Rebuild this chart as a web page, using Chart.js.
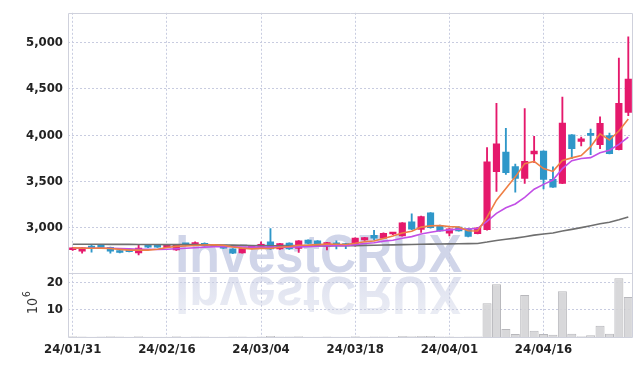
<!DOCTYPE html>
<html><head><meta charset="utf-8">
<script src="https://cdn.jsdelivr.net/npm/chart.js@4.4.1/dist/chart.umd.min.js"></script>
<style>html,body{margin:0;padding:0;background:#fff;}#wrap{width:642px;height:366px;position:relative;}</style>
</head><body><div id="wrap"><canvas id="c" width="642" height="366"></canvas></div>
<script>
const dates = ['24/01/31','24/02/01','24/02/02','24/02/05','24/02/06','24/02/07','24/02/08','24/02/13','24/02/14','24/02/15',
'24/02/16','24/02/19','24/02/20','24/02/21','24/02/22','24/02/23','24/02/26','24/02/27','24/02/28','24/02/29',
'24/03/04','24/03/05','24/03/06','24/03/07','24/03/08','24/03/11','24/03/12','24/03/13','24/03/14','24/03/15',
'24/03/18','24/03/19','24/03/20','24/03/21','24/03/22','24/03/25','24/03/26','24/03/27','24/03/28','24/03/29',
'24/04/01','24/04/02','24/04/03','24/04/04','24/04/05','24/04/08','24/04/09','24/04/11','24/04/12','24/04/15',
'24/04/16','24/04/17','24/04/18','24/04/19','24/04/22','24/04/23','24/04/24','24/04/25','24/04/26','24/04/29'];

const openP = [2762,2748,2785,2810,2787,2752,2762,2727,2797,2796,
2788,2760,2820,2812,2832,2812,2805,2773,2727,2780,
2778,2847,2770,2834,2776,2866,2858,2802,2838,2828,
2805,2868,2919,2888,2932,2911,3064,2981,3160,3023,
2942,3007,2989,2936,2979,3605,3819,3662,3534,3797,
3829,3523,3480,4003,3933,4021,3897,3997,3843,4245];

const highP = [2785,2788,2812,2815,2790,2755,2766,2812,2808,2805,
2798,2820,2825,2848,2838,2815,2808,2776,2778,2792,
2848,2990,2832,2836,2862,2870,2860,2843,2858,2832,
2890,2896,2972,2944,2950,3056,3150,3125,3165,3028,
2992,3010,2992,3003,3865,4345,4075,3687,4288,3989,
3832,3658,4413,4006,3979,4067,4200,4022,4833,5064];

const lowP = [2755,2725,2735,2785,2725,2728,2738,2706,2785,2786,
2786,2755,2810,2808,2800,2795,2776,2720,2724,2770,
2775,2766,2766,2766,2733,2826,2802,2760,2770,2775,
2800,2862,2868,2884,2925,2908,2980,2950,2996,2962,
2912,2962,2900,2932,2975,3392,3576,3384,3480,3704,
3420,3435,3476,3747,3883,3790,3854,3798,3840,4210];

const closeP = [2780,2783,2780,2787,2748,2732,2742,2780,2790,2790,
2792,2815,2815,2840,2805,2798,2780,2724,2776,2785,
2822,2770,2829,2770,2858,2830,2806,2840,2812,2805,
2887,2893,2888,2940,2940,3053,2984,3120,3000,2966,
2989,2966,2905,3000,3712,3907,3595,3534,3719,3829,
3523,3438,4131,3854,3960,3997,4128,3801,4345,4608];

// volume in millions (10^6)
const volume = [0.3,0.2,0.1,0.2,0.3,0.2,0.1,0.3,0.1,0.1,
0.1,0.3,0.1,0.2,0.2,0.1,0.1,0.2,0.2,0.1,
0.2,0.4,0.2,0.2,0.3,0.1,0.1,0.2,0.1,0.1,
0.3,0.1,0.2,0.2,0.1,0.4,0.3,0.4,0.4,0.2,
0.2,0.1,0.2,0.2,12.4,19.4,2.9,1.1,15.4,2.3,
1.1,0.8,16.8,1.2,0.3,0.6,4.1,1.2,21.6,14.7];

const ma5 = [2782,2780,2779,2780,2776,2766,2758,2758,2758,2767,
2786,2799,2803,2808,2813,2815,2810,2792,2780,2772,
2777,2775,2789,2797,2810,2812,2818,2823,2821,2819,
2832,2848,2857,2884,2910,2943,2963,3007,3020,3025,
3012,3008,2968,2965,3114,3298,3424,3550,3693,3717,
3640,3609,3728,3755,3781,3876,4014,3948,4046,4176];

const ma10 = [2778,2778,2778,2779,2779,2776,2772,2768,2767,2765,
2768,2773,2778,2784,2790,2795,2798,2795,2792,2790,
2792,2790,2790,2790,2793,2795,2800,2805,2808,2807,
2818,2830,2838,2855,2864,2886,2904,2932,2951,2967,
2977,2985,2986,2992,3070,3155,3216,3257,3329,3416,
3469,3516,3639,3724,3749,3758,3811,3838,3901,3979];

const ma60 = [2822,2822,2821,2821,2820,2820,2820,2819,2819,2819,
2818,2818,2818,2817,2816,2815,2814,2812,2810,2808,
2806,2805,2804,2803,2803,2803,2803,2804,2805,2806,
2807,2809,2811,2813,2815,2817,2819,2821,2823,2825,
2826,2827,2828,2830,2845,2863,2876,2888,2903,2920,
2932,2943,2965,2982,3001,3021,3043,3060,3086,3116];

const priceTicks = [3000,3500,4000,4500,5000];
const volumeTicks = [10,20];
const labelEvery = 10;

const UP = '#e5196c', DOWN = '#2f97c9';
const FONT = "'DejaVu Sans Condensed','DejaVu Sans',sans-serif";
const GRID = '#c8cce0';
const FRAME = '#cfd1dc';

const candleColor = openP.map((o,i)=> closeP[i] >= o ? UP : DOWN);
const wicks = lowP.map((l,i)=>[l, highP[i]]);
const bodies = openP.map((o,i)=>[o, closeP[i]]);

const watermark = {
  id:'wm',
  beforeDraw(chart){
    const {ctx, chartArea:a} = chart;
    const yb = chart.scales.y.bottom;
    const txt = 'InvestCRUX';
    ctx.save();
    ctx.font = "bold 54px 'Liberation Sans', Arial, sans-serif";
    const w = ctx.measureText(txt).width;
    const targetW = a.width*0.507;
    ctx.translate(a.left + a.width*0.19, yb);
    ctx.scale(targetW/w, 1);
    ctx.textBaseline = 'alphabetic';
    ctx.fillStyle = 'rgb(208,213,233)';
    ctx.fillText(txt, 0, -1);
    ctx.scale(1,-1);
    const g = ctx.createLinearGradient(0,-4,0,-46);
    g.addColorStop(0,'rgb(222,225,239)');
    g.addColorStop(1,'rgb(236,238,245)');
    ctx.fillStyle = g;
    ctx.fillText(txt, 0, -4);
    ctx.restore();
  }
};

const frame = {
  id:'frame',
  afterDraw(chart){
    const {ctx, chartArea:a} = chart;
    const yb = Math.round(chart.scales.y.bottom)+0.5;
    const L = Math.round(a.left)+0.5, R = Math.round(a.right)-0.5, T = Math.round(a.top)+0.5, B = Math.round(a.bottom)+0.5;
    ctx.save();
    ctx.strokeStyle = FRAME; ctx.lineWidth = 1;
    ctx.beginPath();
    ctx.moveTo(L,T); ctx.lineTo(R,T); ctx.lineTo(R,B); ctx.lineTo(L,B); ctx.closePath();
    ctx.moveTo(L,yb); ctx.lineTo(R,yb);
    ctx.stroke();
    const yv = chart.scales.yv;
    ctx.translate(a.left-35, (yv.top+yv.bottom)/2 - 2);
    ctx.rotate(-Math.PI/2);
    ctx.fillStyle = '#333';
    ctx.textBaseline = 'middle';
    ctx.font = "14px " + FONT;
    const w10 = ctx.measureText('10').width;
    ctx.textAlign = 'left';
    ctx.fillText('10', -w10/2-3, 0);
    ctx.font = "10px " + FONT;
    ctx.fillText('6', w10/2-2, -6);
    ctx.restore();
  }
};

const tickFont = {family:FONT, size:13, weight:'bold'};

new Chart(document.getElementById('c'), {
  type:'bar',
  data:{
    labels: dates,
    datasets:[
      {type:'line', label:'MA5', data:ma5, yAxisID:'y', borderColor:'#ee7f45', borderWidth:1.6, pointRadius:0, tension:0, order:0},
      {type:'line', label:'MA10', data:ma10, yAxisID:'y', borderColor:'#c24fe6', borderWidth:1.6, pointRadius:0, tension:0, order:0},
      {type:'line', label:'MA60', data:ma60, yAxisID:'y', borderColor:'#6f6f6f', borderWidth:1.6, pointRadius:0, tension:0, order:0},
      {label:'body', data:bodies, yAxisID:'y', backgroundColor:candleColor, barThickness:6.5, grouped:false, minBarLength:2, order:1},
      {label:'wick', data:wicks, yAxisID:'y', backgroundColor:candleColor, barThickness:1.2, grouped:false, order:2},
      {label:'volume', data:volume, yAxisID:'yv', backgroundColor:'rgba(212,212,214,0.9)', borderColor:'#b8b8bc', borderWidth:1, barPercentage:0.96, categoryPercentage:1, grouped:false, order:3}
    ]
  },
  options:{
    responsive:false, animation:false, devicePixelRatio:1,
    layout:{padding:{top:9,right:9,left:0,bottom:0}},
    plugins:{legend:{display:false}, tooltip:{enabled:false}},
    scales:{
      x:{
        offset:true,
        grid:{offset:false, color:GRID, drawTicks:false},
        border:{display:false, dash:[2,2]},
        ticks:{autoSkip:false, maxRotation:0, padding:5, color:'#222', font:tickFont,
          callback:function(v,i){ return i % labelEvery === 0 ? dates[i] : null; }},
        afterFit(s){ s.height = 29; }
      },
      yv:{
        position:'left', stack:'main', stackWeight:1,
        min:0, max:23.6,
        grid:{color:GRID, drawTicks:false},
        border:{display:false, dash:[2,2]},
        ticks:{padding:5, color:'#222', font:tickFont},
        afterBuildTicks(s){ s.ticks = volumeTicks.map(v=>({value:v})); },
        afterFit(s){ s.width = 68; }
      },
      y:{
        position:'left', stack:'main', stackWeight:4.05,
        min:2513, max:5323,
        grid:{color:GRID, drawTicks:false},
        border:{display:false, dash:[2,2]},
        ticks:{padding:5, color:'#222', font:tickFont,
          callback:(v)=>Number(v).toLocaleString('en-US')},
        afterBuildTicks(s){ s.ticks = priceTicks.map(v=>({value:v})); },
        afterFit(s){ s.width = 68; }
      }
    }
  },
  plugins:[watermark, frame]
});
</script>
</body></html>
